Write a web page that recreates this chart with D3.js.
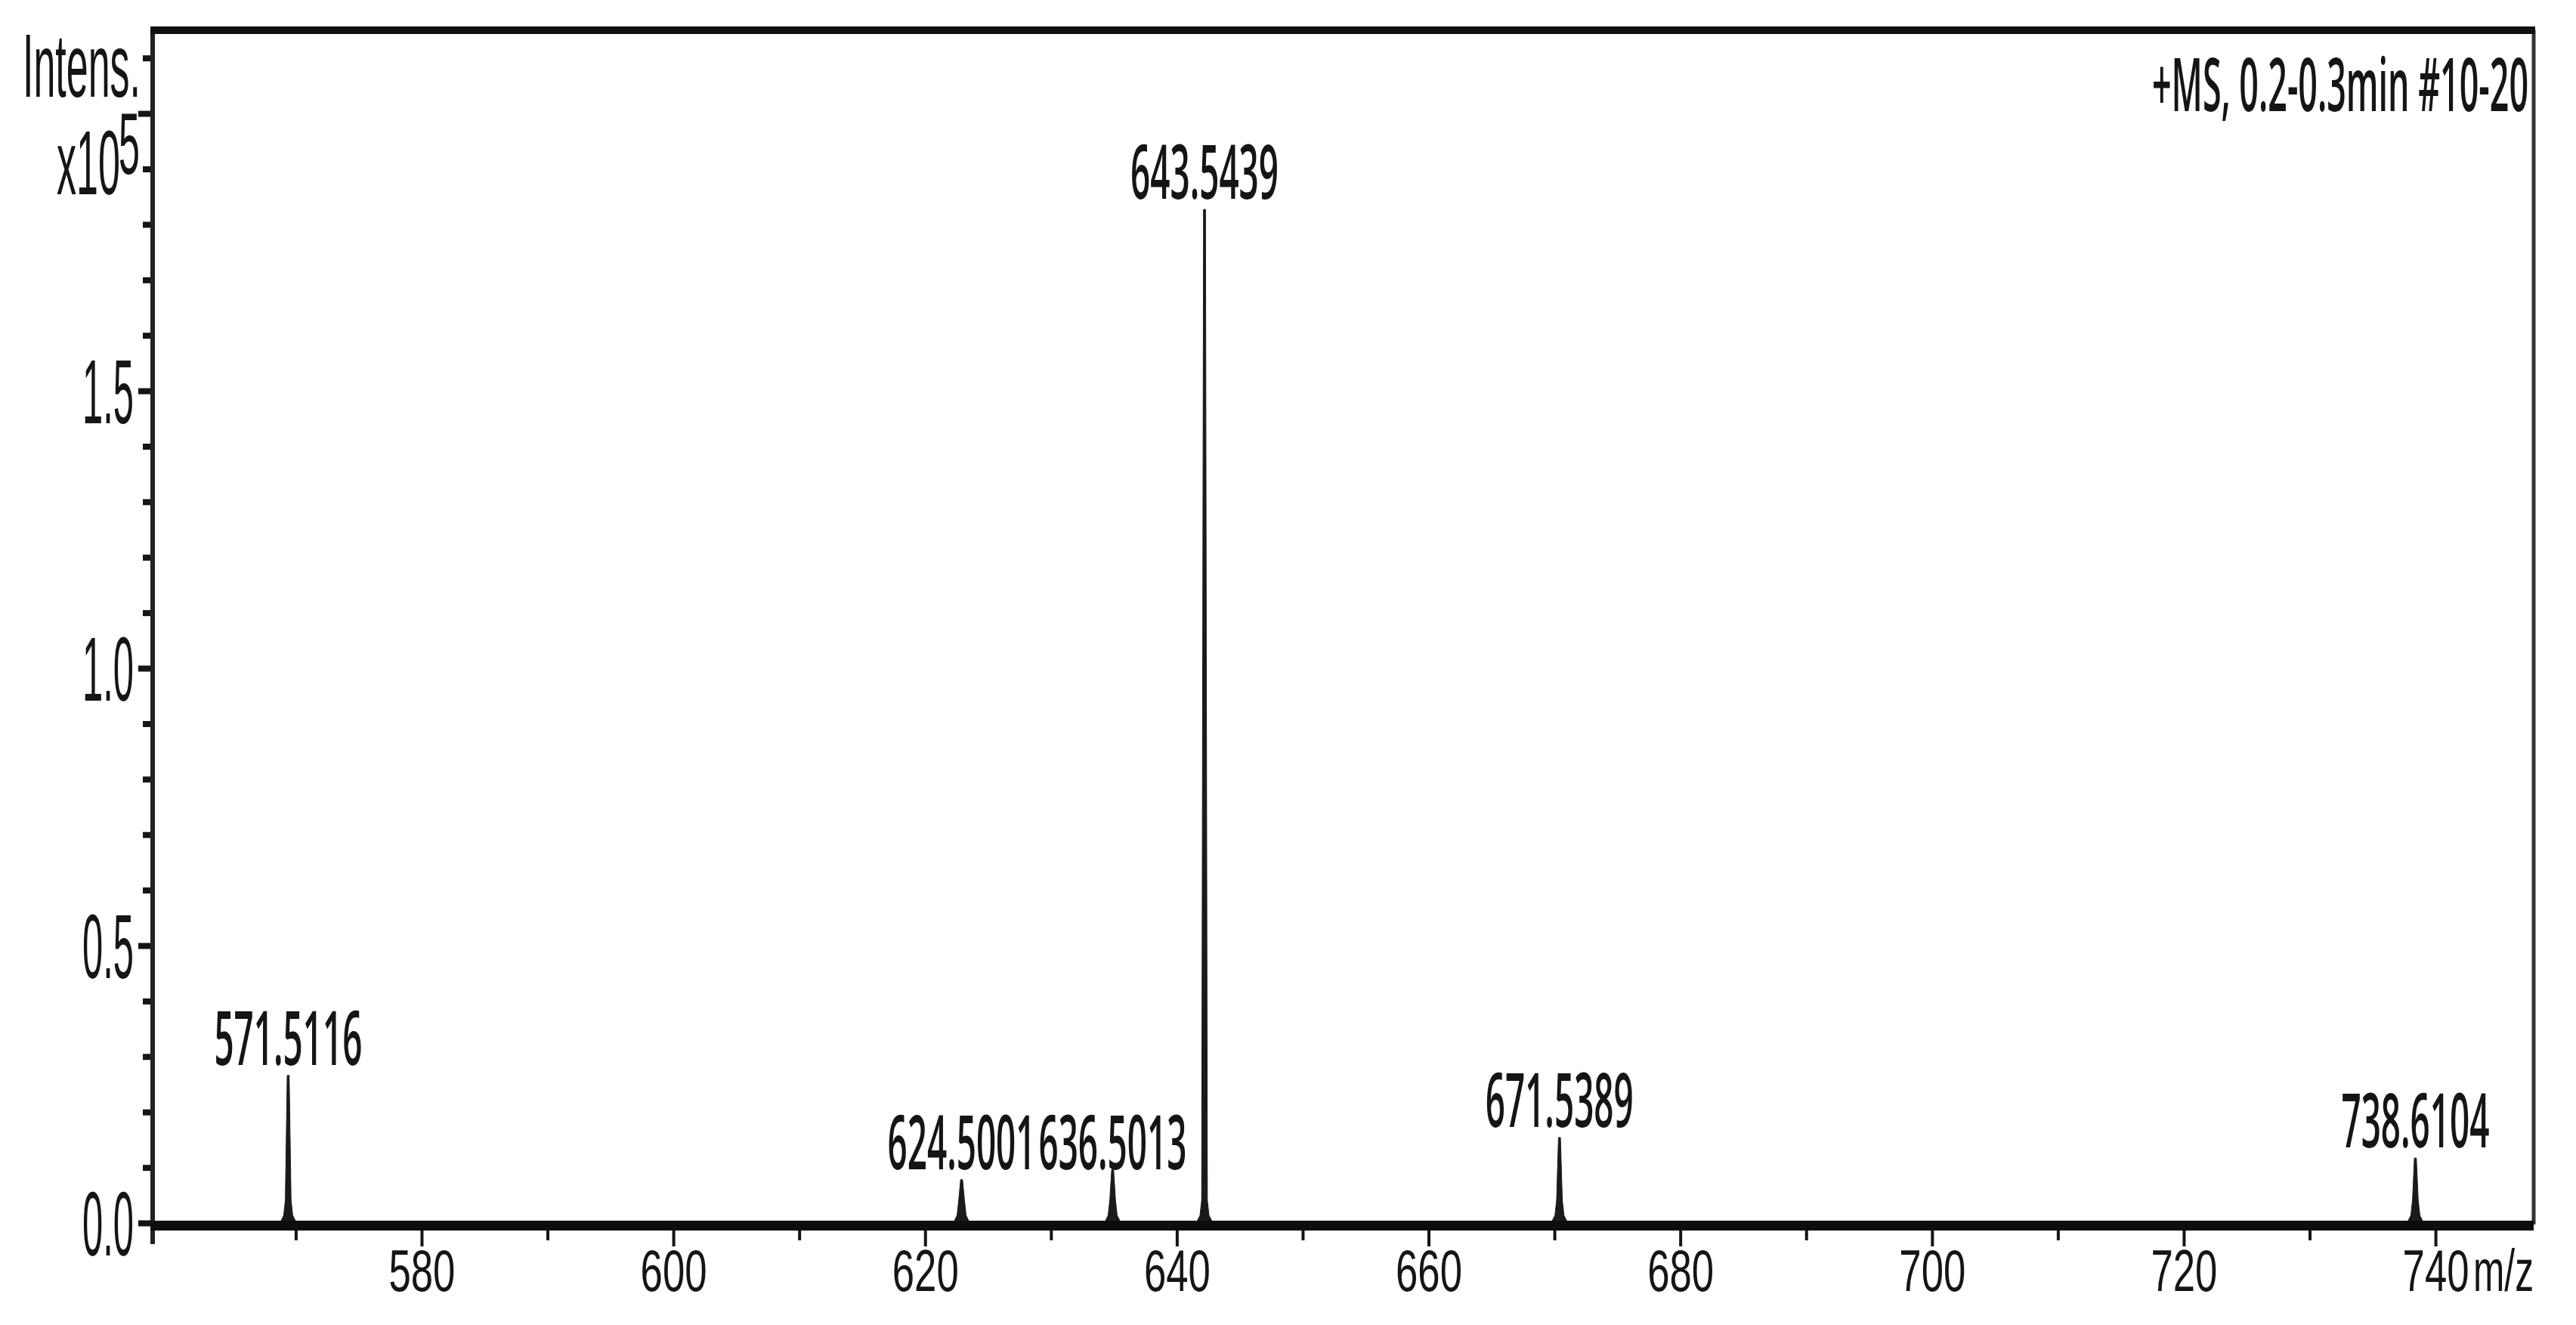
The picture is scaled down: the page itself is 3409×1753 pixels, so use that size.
<!DOCTYPE html>
<html>
<head>
<meta charset="utf-8">
<script src="https://cdn.jsdelivr.net/npm/d3@7"></script>
<style>
  html, body { margin: 0; padding: 0; background: #fff; }
  svg { display: block; }
</style>
</head>
<body>
<svg id="chart" width="3409" height="1753"></svg>
<script>
// ---------------- data ----------------
const mzMajorTicks = [580, 600, 620, 640, 660, 680, 700, 720, 740];
const mzMinorTicks = [570, 590, 610, 630, 650, 670, 690, 710, 730];
const intensMajorTicks = [0.0, 0.5, 1.0, 1.5, 2.0];
const intensMajorLabels = ["0.0", "0.5", "1.0", "1.5", ""];
const intensMinorTicks = [0.1, 0.2, 0.3, 0.4, 0.6, 0.7, 0.8, 0.9, 1.1, 1.2, 1.3, 1.4, 1.6, 1.7, 1.8, 1.9, 2.1];

// peak positions as drawn on the m/z axis, their heights (x10^5) and their annotation text
const peakMz        = [569.4, 622.9, 634.9, 642.2, 670.4, 738.4];
const peakIntensity = [0.266, 0.078, 0.096, 1.827, 0.154, 0.117];
const peakLabels    = ["571.5116", "624.5001", "636.5013", "643.5439", "671.5389", "738.6104"];

const yAxisTitle = "Intens.";
const yAxisExpBase = "x10";
const yAxisExp = "5";
const xAxisUnit = "m/z";
const spectrumTitle = "+MS, 0.2-0.3min #10-20";

// ---------------- layout ----------------
const svg = d3.select("#chart");
const W = 3409, H = 1753;
const plotL = 202, plotR = 3353, plotT = 40, zeroY = 1618;

const x = d3.scaleLinear().domain([558.63, 747.8]).range([plotL, plotR]);
const y = d3.scaleLinear().domain([0, 2.15]).range([zeroY, plotT]);

svg.append("rect").attr("width", W).attr("height", H).attr("fill", "#fff");

const ink = "#151515";
const axisFont = "'Liberation Sans', Arial, sans-serif";
const labelFont = "'Open Sans', 'Noto Sans', sans-serif";

// ---------------- peaks ----------------
const peaks = peakMz.map((m, i) => ({ mz: m, h: peakIntensity[i], label: peakLabels[i] }));
const lineGen = d3.line();
svg.append("g").selectAll("path").data(peaks).join("path")
  .attr("d", d => {
    const cx = x(d.mz), yt = y(d.h), y0 = y(0);
    const pts = [
      [cx - 11, y0], [cx - 6, y0 - 10], [cx - 3.8, y0 - 30], [cx - 1.3, yt],
      [cx + 1.3, yt], [cx + 3.8, y0 - 30], [cx + 6, y0 - 10], [cx + 11, y0]
    ];
    return lineGen(pts) + "Z";
  })
  .attr("fill", "#1a1a1a")
  .attr("stroke", "#1a1a1a")
  .attr("stroke-width", 1);

// ---------------- peak labels ----------------
const labelW = 200, labelH = 75, labelGap = 14;
const labelPos = peaks.map(d => ({ cx: x(d.mz), base: y(d.h) - labelGap, text: d.label }));
// labels that would collide share the lower baseline
for (let i = 0; i < labelPos.length - 1; i++) {
  const a = labelPos[i], b = labelPos[i + 1];
  if (b.cx - a.cx < labelW && Math.abs(b.base - a.base) < labelH) {
    const m = Math.max(a.base, b.base);
    a.base = m; b.base = m;
  }
}
svg.append("g").selectAll("text").data(labelPos).join("text")
  .attr("x", d => d.cx)
  .attr("y", d => d.base)
  .attr("text-anchor", "middle")
  .attr("font-family", labelFont)
  .attr("font-weight", 600)
  .attr("font-size", 100)
  .attr("textLength", labelW - 4)
  .attr("lengthAdjust", "spacingAndGlyphs")
  .attr("fill", ink)
  .text(d => d.text);

// ---------------- axes ----------------
const xAxisY = 1628;
const gxMinor = svg.append("g").attr("transform", `translate(0,${xAxisY})`)
  .call(d3.axisBottom(x).tickValues(mzMinorTicks).tickSize(13).tickFormat(""));
const gxMajor = svg.append("g").attr("transform", `translate(0,${xAxisY})`)
  .call(d3.axisBottom(x).tickValues(mzMajorTicks).tickSize(21).tickPadding(0).tickFormat(d3.format("d")));
[gxMinor, gxMajor].forEach(g => {
  g.select(".domain").remove();
  g.selectAll(".tick line").attr("stroke", ink).attr("stroke-width", 4);
});
gxMajor.selectAll(".tick text")
  .attr("y", 80).attr("dy", null)
  .attr("font-family", axisFont)
  .attr("font-size", 77)
  .attr("textLength", 88)
  .attr("lengthAdjust", "spacingAndGlyphs")
  .attr("fill", ink);

const gyMinor = svg.append("g").attr("transform", `translate(${plotL},0)`)
  .call(d3.axisLeft(y).tickValues(intensMinorTicks).tickSize(13).tickFormat(""));
const gyMajor = svg.append("g").attr("transform", `translate(${plotL},0)`)
  .call(d3.axisLeft(y).tickValues(intensMajorTicks).tickSize(19).tickPadding(6)
    .tickFormat((d, i) => intensMajorLabels[i]));
[gyMinor, gyMajor].forEach(g => {
  g.select(".domain").remove();
  g.selectAll(".tick line").attr("stroke", ink).attr("stroke-width", 8);
});
gyMajor.selectAll(".tick text")
  .attr("x", -25).attr("y", 42).attr("dy", null)
  .attr("font-family", axisFont)
  .attr("font-size", 121)
  .attr("textLength", 68)
  .attr("lengthAdjust", "spacingAndGlyphs")
  .attr("fill", ink);

// frame
svg.append("line").attr("x1", plotL).attr("x2", plotL).attr("y1", plotT).attr("y2", 1646)
  .attr("stroke", "#222").attr("stroke-width", 6);
svg.append("line").attr("x1", plotR).attr("x2", plotR).attr("y1", plotT).attr("y2", 1620)
  .attr("stroke", "#333").attr("stroke-width", 5);
svg.append("line").attr("x1", plotL - 3).attr("x2", plotR + 2).attr("y1", plotT).attr("y2", plotT)
  .attr("stroke", "#111").attr("stroke-width", 10);
svg.append("line").attr("x1", plotL - 3).attr("x2", plotR).attr("y1", 1621.5).attr("y2", 1621.5)
  .attr("stroke", "#0d0d0d").attr("stroke-width", 13);

// ---------------- axis titles ----------------
svg.append("text")
  .attr("x", 30).attr("y", 128)
  .attr("font-family", axisFont).attr("font-size", 119)
  .attr("textLength", 156).attr("lengthAdjust", "spacingAndGlyphs")
  .attr("fill", ink).text(yAxisTitle);
svg.append("text")
  .attr("x", 75).attr("y", 257)
  .attr("font-family", axisFont).attr("font-size", 121)
  .attr("textLength", 84).attr("lengthAdjust", "spacingAndGlyphs")
  .attr("fill", ink).text(yAxisExpBase);
svg.append("text")
  .attr("x", 157).attr("y", 230)
  .attr("font-family", axisFont).attr("font-size", 115)
  .attr("textLength", 28).attr("lengthAdjust", "spacingAndGlyphs")
  .attr("fill", ink).text(yAxisExp);

svg.append("text")
  .attr("x", 3273).attr("y", 1708)
  .attr("font-family", axisFont).attr("font-size", 77)
  .attr("textLength", 80).attr("lengthAdjust", "spacingAndGlyphs")
  .attr("fill", ink).text(xAxisUnit);

// spectrum title (top right)
svg.append("text")
  .attr("x", 3346).attr("y", 147)
  .attr("text-anchor", "end")
  .attr("font-family", labelFont).attr("font-weight", 600).attr("font-size", 97)
  .attr("textLength", 498).attr("lengthAdjust", "spacingAndGlyphs")
  .attr("fill", ink)
  .text(spectrumTitle);
</script>
</body>
</html>
